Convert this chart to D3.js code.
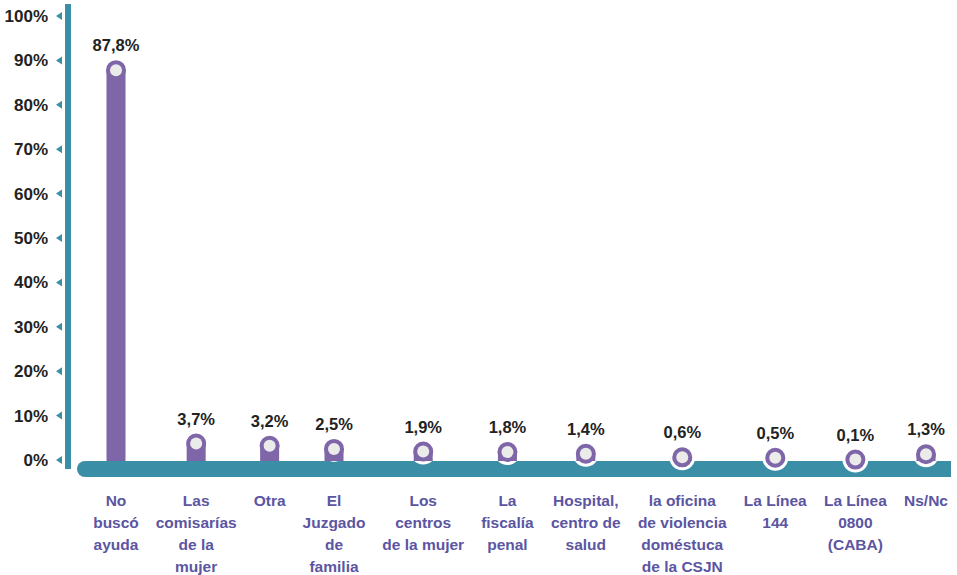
<!DOCTYPE html>
<html>
<head>
<meta charset="utf-8">
<script src="https://cdn.jsdelivr.net/npm/d3@7"></script>
<style>
	body { margin: 0; background: #fff; }
	text { font-family: "Liberation Sans", Arial, sans-serif; font-weight: bold; }
</style>
</head>
<body>
<svg id="chart" width="957" height="575"></svg>
<script>
// data
var categories = [
	['No', 'buscó', 'ayuda'],
	['Las', 'comisarías', 'de la', 'mujer'],
	['Otra'],
	['El', 'Juzgado', 'de', 'familia'],
	['Los', 'centros', 'de la mujer'],
	['La', 'fiscalía', 'penal'],
	['Hospital,', 'centro de', 'salud'],
	['la oficina', 'de violencia', 'doméstuca', 'de la CSJN'],
	['La Línea', '144'],
	['La Línea', '0800', '(CABA)'],
	['Ns/Nc']
];
var values = [87.8, 3.7, 3.2, 2.5, 1.9, 1.8, 1.4, 0.6, 0.5, 0.1, 1.3];
var tickValues = [0, 10, 20, 30, 40, 50, 60, 70, 80, 90, 100];

var teal = '#3a8fa7',
	purple = '#7e66a9',
	labelPurple = '#5b55a2',
	dark = '#222';

var svg = d3.select('#chart');

var names = categories.map(function(c) { return c.join(' '); });

var y = d3.scaleLinear()
	.domain([0, 100])
	.range([460, 16]);

var barW = 19,
	baseTop = 461;

// category labels first, so their widths can set the spacing
var cats = svg.append('g').selectAll('text')
	.data(categories)
	.enter()
	.append('text')
	.attr('y', 506)
	.attr('text-anchor', 'middle')
	.attr('font-size', 15.5)
	.attr('fill', labelPurple);

cats.selectAll('tspan')
	.data(function(d) { return d; })
	.enter()
	.append('tspan')
	.attr('x', 0)
	.attr('dy', function(d, i) { return i ? 22 : 0; })
	.text(function(d) { return d; });

var widths = cats.nodes().map(function(n) { return n.getBBox().width; });

// labels sit side by side, the leftover room shared out evenly
var first = 116, last = 926;
var halfSum = d3.sum(d3.pairs(widths), function(p) { return (p[0] + p[1]) / 2; });
var gap = (last - first - halfSum) / (widths.length - 1);
var pos = [first];
d3.pairs(widths).forEach(function(p, i) {
	pos.push(pos[i] + (p[0] + p[1]) / 2 + gap);
});

var x = d3.scaleOrdinal()
	.domain(names)
	.range(pos);

cats.each(function(d, i) {
	d3.select(this).selectAll('tspan').attr('x', x(names[i]));
});

// vertical axis bar
svg.append('rect')
	.attr('x', 65)
	.attr('y', 4)
	.attr('width', 6)
	.attr('height', 465)
	.attr('fill', teal);

// ticks: label + small left triangle
var ticks = svg.append('g').selectAll('g')
	.data(tickValues)
	.enter()
	.append('g')
	.attr('transform', function(d) { return 'translate(0,' + y(d) + ')'; });

ticks.append('text')
	.attr('x', 48)
	.attr('dy', '0.35em')
	.attr('text-anchor', 'end')
	.attr('font-size', 17)
	.attr('fill', dark)
	.text(function(d) { return d + '%'; });

ticks.append('path')
	.attr('d', 'M56,0L62,-4L62,4Z')
	.attr('fill', teal);

// horizontal base bar, rounded on the left
svg.append('rect')
	.attr('x', 77)
	.attr('y', baseTop)
	.attr('width', 40)
	.attr('height', 16)
	.attr('rx', 8)
	.attr('fill', teal);
svg.append('rect')
	.attr('x', 85)
	.attr('y', baseTop)
	.attr('width', 951 - 85)
	.attr('height', 16)
	.attr('fill', teal);

var bars = svg.append('g').selectAll('g')
	.data(values)
	.enter()
	.append('g')
	.attr('transform', function(d, i) { return 'translate(' + x(names[i]) + ',0)'; });

bars.append('circle')
	.attr('cy', function(d) { return y(d); })
	.attr('r', 11.5)
	.attr('fill', purple)
	.attr('stroke', '#fff')
	.attr('stroke-width', 3);

bars.append('rect')
	.attr('x', -barW / 2)
	.attr('y', function(d) { return y(d); })
	.attr('width', barW)
	.attr('height', function(d) { return Math.max(0, baseTop - y(d)); })
	.attr('fill', purple);

bars.append('circle')
	.attr('cy', function(d) { return y(d); })
	.attr('r', 6)
	.attr('fill', '#ebebea');

bars.append('text')
	.attr('y', function(d) { return y(d) - 19; })
	.attr('text-anchor', 'middle')
	.attr('font-size', 16.5)
	.attr('fill', dark)
	.text(function(d) { return d3.format('.1f')(d).replace('.', ',') + '%'; });
</script>
</body>
</html>
